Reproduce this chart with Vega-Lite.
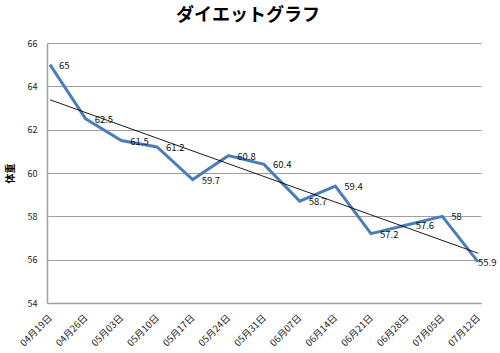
{
  "$schema": "https://vega.github.io/schema/vega-lite/v6.json",
  "width": 434,
  "height": 260,
  "autosize": {"type": "none"},
  "padding": {"left": 47, "top": 43, "right": 19, "bottom": 50},
  "background": "white",
  "title": {
    "text": "ダイエットグラフ",
    "fontSize": 18,
    "fontWeight": "bold",
    "font": "Noto Sans CJK JP",
    "color": "black",
    "anchor": "middle",
    "dx": -16,
    "offset": 14
  },
  "config": {
    "view": {"stroke": null},
    "font": "Noto Sans CJK JP"
  },
  "data": {
    "values": [
      {"date": "2010-04-19", "weight": 65},
      {"date": "2010-04-26", "weight": 62.5},
      {"date": "2010-05-03", "weight": 61.5},
      {"date": "2010-05-10", "weight": 61.2},
      {"date": "2010-05-17", "weight": 59.7},
      {"date": "2010-05-24", "weight": 60.8},
      {"date": "2010-05-31", "weight": 60.4},
      {"date": "2010-06-07", "weight": 58.7},
      {"date": "2010-06-14", "weight": 59.4},
      {"date": "2010-06-21", "weight": 57.2},
      {"date": "2010-06-28", "weight": 57.6},
      {"date": "2010-07-05", "weight": 58},
      {"date": "2010-07-12", "weight": 55.9}
    ]
  },
  "encoding": {
    "x": {
      "field": "date",
      "type": "temporal",
      "scale": {"type": "utc", "padding": 3},
      "axis": {
        "title": null,
        "labelExpr": "utcFormat(datum.value, '%m月%d日')",
        "values": [
          {"year": 2010, "month": 4, "date": 19, "utc": true},
          {"year": 2010, "month": 4, "date": 26, "utc": true},
          {"year": 2010, "month": 5, "date": 3, "utc": true},
          {"year": 2010, "month": 5, "date": 10, "utc": true},
          {"year": 2010, "month": 5, "date": 17, "utc": true},
          {"year": 2010, "month": 5, "date": 24, "utc": true},
          {"year": 2010, "month": 5, "date": 31, "utc": true},
          {"year": 2010, "month": 6, "date": 7, "utc": true},
          {"year": 2010, "month": 6, "date": 14, "utc": true},
          {"year": 2010, "month": 6, "date": 21, "utc": true},
          {"year": 2010, "month": 6, "date": 28, "utc": true},
          {"year": 2010, "month": 7, "date": 5, "utc": true},
          {"year": 2010, "month": 7, "date": 12, "utc": true}
        ],
        "labelAngle": -45,
        "labelAlign": "right",
        "labelBaseline": "middle",
        "labelPadding": 13,
        "labelFontSize": 9.5,
        "labelColor": "#222",
        "labelFont": "Noto Sans CJK JP",
        "ticks": false,
        "grid": false,
        "domainColor": "#a0a0a0",
        "domainWidth": 1.5,
        "labelOverlap": false,
        "labelFlush": false
      }
    },
    "y": {
      "field": "weight",
      "type": "quantitative",
      "scale": {"domain": [54, 66], "zero": false, "nice": false},
      "axis": {
        "title": "体重",
        "titleFontSize": 10,
        "titleFontWeight": "bold",
        "titleFont": "Noto Sans CJK JP",
        "titleColor": "black",
        "titlePadding": 12,
        "values": [54, 56, 58, 60, 62, 64, 66],
        "labelFontSize": 9,
        "labelColor": "#222",
        "labelPadding": 10,
        "ticks": false,
        "grid": true,
        "gridColor": "#a0a0a0",
        "gridWidth": 1,
        "domainColor": "#a0a0a0",
        "domainWidth": 1.5
      }
    }
  },
  "layer": [
    {
      "mark": {"type": "line", "color": "#4a7ebb", "strokeWidth": 3, "strokeJoin": "miter"}
    },
    {
      "transform": [{"regression": "weight", "on": "date"}],
      "mark": {"type": "line", "color": "black", "strokeWidth": 0.9}
    },
    {
      "transform": [{"filter": "!(utcmonth(datum.date) == 6 && utcdate(datum.date) == 12)"}],
      "mark": {"type": "text", "align": "left", "baseline": "middle", "dx": 9, "dy": 1, "fontSize": 9.5, "color": "#111"},
      "encoding": {"text": {"field": "weight", "type": "quantitative", "format": ".4~g"}}
    },
    {
      "transform": [{"filter": "utcmonth(datum.date) == 6 && utcdate(datum.date) == 12"}],
      "mark": {"type": "text", "align": "left", "baseline": "middle", "dx": 0, "dy": 1, "fontSize": 9.5, "color": "#111"},
      "encoding": {"text": {"field": "weight", "type": "quantitative", "format": ".4~g"}}
    }
  ]
}
